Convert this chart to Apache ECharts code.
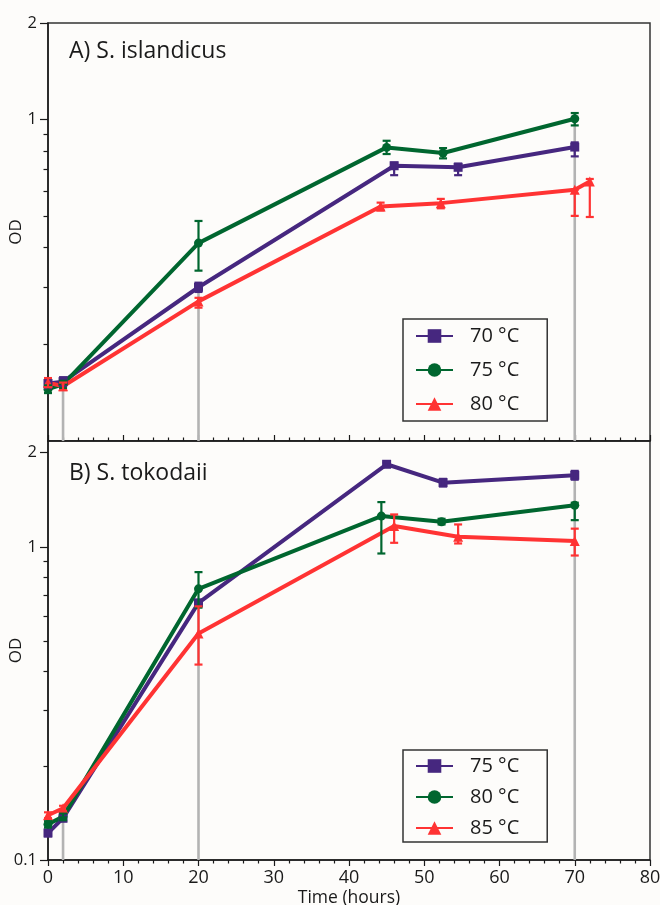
<!DOCTYPE html>
<html>
<head>
<meta charset="utf-8">
<script src="https://cdn.jsdelivr.net/npm/echarts@6/dist/echarts.min.js"></script>
<style>
html,body{margin:0;padding:0;background:#fdfcfa;}
#chart{width:660px;height:905px;}
</style>
</head>
<body>
<div id="chart"></div>
<script>
// ---------- Data ----------
// Panel A) S. islandicus
const a70_t  = [0, 2, 20, 46, 54.5, 70];
const a70_v  = [0.151, 0.153, 0.301, 0.719, 0.711, 0.822];
const a70_lo = [0.146, 0.148, 0.291, 0.672, 0.672, 0.769];
const a70_hi = [0.156, 0.158, 0.311, 0.735, 0.730, 0.850];

const a75_t  = [0, 2, 20, 45, 52.5, 70];
const a75_v  = [0.145, 0.150, 0.413, 0.820, 0.788, 1.007];
const a75_lo = [0.141, 0.146, 0.339, 0.782, 0.758, 0.960];
const a75_hi = [0.149, 0.154, 0.484, 0.860, 0.816, 1.049];

const a80_t  = [0, 2, 20, 44.2, 52.2, 70, 72];
const a80_v  = [0.152, 0.148, 0.272, 0.537, 0.550, 0.605, 0.642];
const a80_lo = [0.147, 0.144, 0.260, 0.522, 0.530, 0.502, 0.498];
const a80_hi = [0.157, 0.152, 0.279, 0.552, 0.567, 0.605, 0.654];

// Panel B) S. tokodaii
const b75_t  = [0, 2, 20, 45, 52.5, 70];
const b75_v  = [0.122, 0.136, 0.663, 1.837, 1.605, 1.694];
const b75_lo = [0.119, 0.133, 0.650, 1.810, 1.560, 1.640];
const b75_hi = [0.125, 0.139, 0.676, 1.860, 1.650, 1.750];

const b80_t  = [0, 2, 20, 44.3, 52.3, 70];
const b80_v  = [0.130, 0.1376, 0.735, 1.255, 1.204, 1.358];
const b80_lo = [0.127, 0.134, 0.640, 0.953, 1.180, 1.218];
const b80_hi = [0.133, 0.141, 0.831, 1.391, 1.230, 1.385];

const b85_t  = [0, 2, 20, 46, 54.5, 70];
const b85_v  = [0.139, 0.1463, 0.529, 1.166, 1.078, 1.044];
const b85_lo = [0.136, 0.143, 0.421, 1.031, 1.026, 0.939];
const b85_hi = [0.142, 0.149, 0.646, 1.270, 1.180, 1.144];

// gray drop lines [time, top value]
const dropA = [[2, 0.153], [20, 0.301], [70, 1.007]];
const dropB = [[2, 0.136], [20, 0.663], [70, 1.694]];

// axis tick labels
const xTicks = [0, 10, 20, 30, 40, 50, 60, 70, 80];
const yLabelsA = [1, 2];
const yLabelsB = [0.1, 1, 2];
const yMinor = [0.2, 0.3, 0.4, 0.5, 0.6, 0.7, 0.8, 0.9];

const namesA = ['70 °C', '75 °C', '80 °C'];
const namesB = ['75 °C', '80 °C', '85 °C'];
const titleA = 'A) S. islandicus';
const titleB = 'B) S. tokodaii';

// ---------- Styling ----------
const PURPLE = '#46277f', GREEN = '#00662f', RED = '#ff3333', GRAY = '#b3b3b3', INK = '#1a1a1a';
const FONT = 'Open Sans';

const chart = echarts.init(document.getElementById('chart'));

function pairs(t, v) { return t.map((x, i) => [x, v[i]]); }
function errs(t, lo, hi) { return t.map((x, i) => [x, lo[i], hi[i]]); }

function lineSeries(name, t, v, color, symbol, size, xi, yi) {
  return {
    type: 'line', name: name, xAxisIndex: xi, yAxisIndex: yi,
    data: pairs(t, v), symbol: symbol, symbolSize: size, showSymbol: true,
    lineStyle: { color: color, width: 4 }, itemStyle: { color: color },
    z: 3, animation: false, clip: false
  };
}
function errSeries(t, lo, hi, color, xi, yi) {
  return {
    type: 'custom', xAxisIndex: xi, yAxisIndex: yi, data: errs(t, lo, hi),
    encode: { x: 0, y: [1, 2] }, z: 4, animation: false, silent: true,
    renderItem: function (params, api) {
      const p1 = api.coord([api.value(0), api.value(1)]);
      const p2 = api.coord([api.value(0), api.value(2)]);
      const w = 4, st = { stroke: color, lineWidth: 2.2 };
      return { type: 'group', children: [
        { type: 'line', shape: { x1: p1[0], y1: p1[1], x2: p2[0], y2: p2[1] }, style: st },
        { type: 'line', shape: { x1: p1[0] - w, y1: p1[1], x2: p1[0] + w, y2: p1[1] }, style: st },
        { type: 'line', shape: { x1: p2[0] - w, y1: p2[1], x2: p2[0] + w, y2: p2[1] }, style: st }
      ]};
    }
  };
}
function dropSeries(d, xi, yi) {
  return {
    type: 'custom', xAxisIndex: xi, yAxisIndex: yi, data: d,
    encode: { x: 0, y: 1 }, z: 1, animation: false, silent: true,
    renderItem: function (params, api) {
      const p1 = api.coord([api.value(0), api.value(1)]);
      const p2 = api.coord([api.value(0), 0.1]);
      return { type: 'line', shape: { x1: p1[0], y1: p1[1], x2: p2[0], y2: p2[1] },
               style: { stroke: GRAY, lineWidth: 2.6 } };
    }
  };
}

function xAxis(gi, showLabels, inside) {
  return {
    type: 'value', gridIndex: gi, min: 0, max: 80, interval: 10,
    name: showLabels ? 'Time (hours)' : '', nameLocation: 'middle', nameGap: 29, nameMoveOverlap: false,
    nameTextStyle: { fontFamily: FONT, fontSize: 17.5, color: INK },
    axisLine: { show: true, lineStyle: { color: INK, width: 1.5 } },
    axisTick: { show: true, inside: inside, length: 6, lineStyle: { color: INK, width: 1.2 } },
    minorTick: { show: true, splitNumber: 5, length: 3.5, lineStyle: { color: INK, width: 1.2 } },
    axisLabel: { show: showLabels, customValues: xTicks, margin: 9, fontFamily: FONT, fontSize: 18, color: INK },
    splitLine: { show: false }, minorSplitLine: { show: false }
  };
}
function yMajor(gi, max, labels) {
  return {
    type: 'log', logBase: 10, gridIndex: gi, min: 0.1, max: max,
    name: 'OD', nameLocation: 'middle', nameGap: 23, nameRotate: 90, nameMoveOverlap: false,
    nameTextStyle: { fontFamily: FONT, fontSize: 17, color: INK },
    axisLine: { show: true, lineStyle: { color: INK, width: 1.5 } },
    axisTick: { show: true, customValues: labels, length: 8, lineStyle: { color: INK, width: 1.2 } },
    axisLabel: { show: true, customValues: labels, margin: 11, fontFamily: FONT, fontSize: 16.5, color: INK,
                 formatter: v => String(v) },
    splitLine: { show: false }
  };
}
function yMinorAxis(gi, max) {
  return {
    type: 'log', logBase: 10, gridIndex: gi, min: 0.1, max: max, position: 'left',
    axisLine: { show: false },
    axisTick: { show: true, customValues: yMinor, length: 4.5, lineStyle: { color: INK, width: 1.2 } },
    axisLabel: { show: false }, splitLine: { show: false }
  };
}
function legend(names, prefix, top, gap, padding) {
  return {
    show: true, orient: 'vertical', left: 403, top: top, itemGap: gap,
    itemWidth: 37, itemHeight: 17, data: names.map(n => prefix + n),
    formatter: n => n.slice(prefix.length),
    textStyle: { fontFamily: FONT, fontSize: 20, color: INK, lineHeight: 20, padding: [0, 0, 0, 12] },
    borderColor: '#333', borderWidth: 1.5, backgroundColor: '#fdfcfa', borderRadius: 0,
    padding: padding, selectedMode: false
  };
}

const option = {
  backgroundColor: '#fdfcfa',
  animation: false,
  title: [
    { text: titleA, left: 64, top: 35, textStyle: { fontFamily: FONT, fontSize: 23, fontWeight: 'normal', color: INK } },
    { text: titleB, left: 64, top: 457, textStyle: { fontFamily: FONT, fontSize: 23, fontWeight: 'normal', color: INK } }
  ],
  grid: [
    { left: 48, top: 23, width: 602, height: 418, show: true, borderColor: '#333', borderWidth: 1.5,
      backgroundColor: '#fdfcfa', outerBoundsMode: 'none', containLabel: false },
    { left: 48, top: 441, width: 602, height: 419, show: true, borderColor: '#333', borderWidth: 1.5,
      backgroundColor: '#fdfcfa', outerBoundsMode: 'none', containLabel: false }
  ],
  xAxis: [ xAxis(0, false, true), xAxis(1, true, false) ],
  yAxis: [ yMajor(0, 2, yLabelsA), yMinorAxis(0, 2), yMajor(1, 2.18, yLabelsB), yMinorAxis(1, 2.18) ],
  legend: [
    legend(namesA, 'A:', 319, 14, [7, 28, 7, 12]),
    legend(namesB, 'B:', 750, 11, [6, 28, 4, 12])
  ],
  series: [
    dropSeries(dropA, 0, 0),
    dropSeries(dropB, 1, 2),
    lineSeries('A:' + namesA[0], a70_t, a70_v, PURPLE, 'rect', 9, 0, 0),
    lineSeries('A:' + namesA[1], a75_t, a75_v, GREEN, 'circle', 9, 0, 0),
    lineSeries('A:' + namesA[2], a80_t, a80_v, RED, 'triangle', 10, 0, 0),
    errSeries(a70_t, a70_lo, a70_hi, PURPLE, 0, 0),
    errSeries(a75_t, a75_lo, a75_hi, GREEN, 0, 0),
    errSeries(a80_t, a80_lo, a80_hi, RED, 0, 0),
    lineSeries('B:' + namesB[0], b75_t, b75_v, PURPLE, 'rect', 9, 1, 2),
    lineSeries('B:' + namesB[1], b80_t, b80_v, GREEN, 'circle', 9, 1, 2),
    lineSeries('B:' + namesB[2], b85_t, b85_v, RED, 'triangle', 10, 1, 2),
    errSeries(b75_t, b75_lo, b75_hi, PURPLE, 1, 2),
    errSeries(b80_t, b80_lo, b80_hi, GREEN, 1, 2),
    errSeries(b85_t, b85_lo, b85_hi, RED, 1, 2)
  ]
};
chart.setOption(option);
</script>
</body>
</html>
